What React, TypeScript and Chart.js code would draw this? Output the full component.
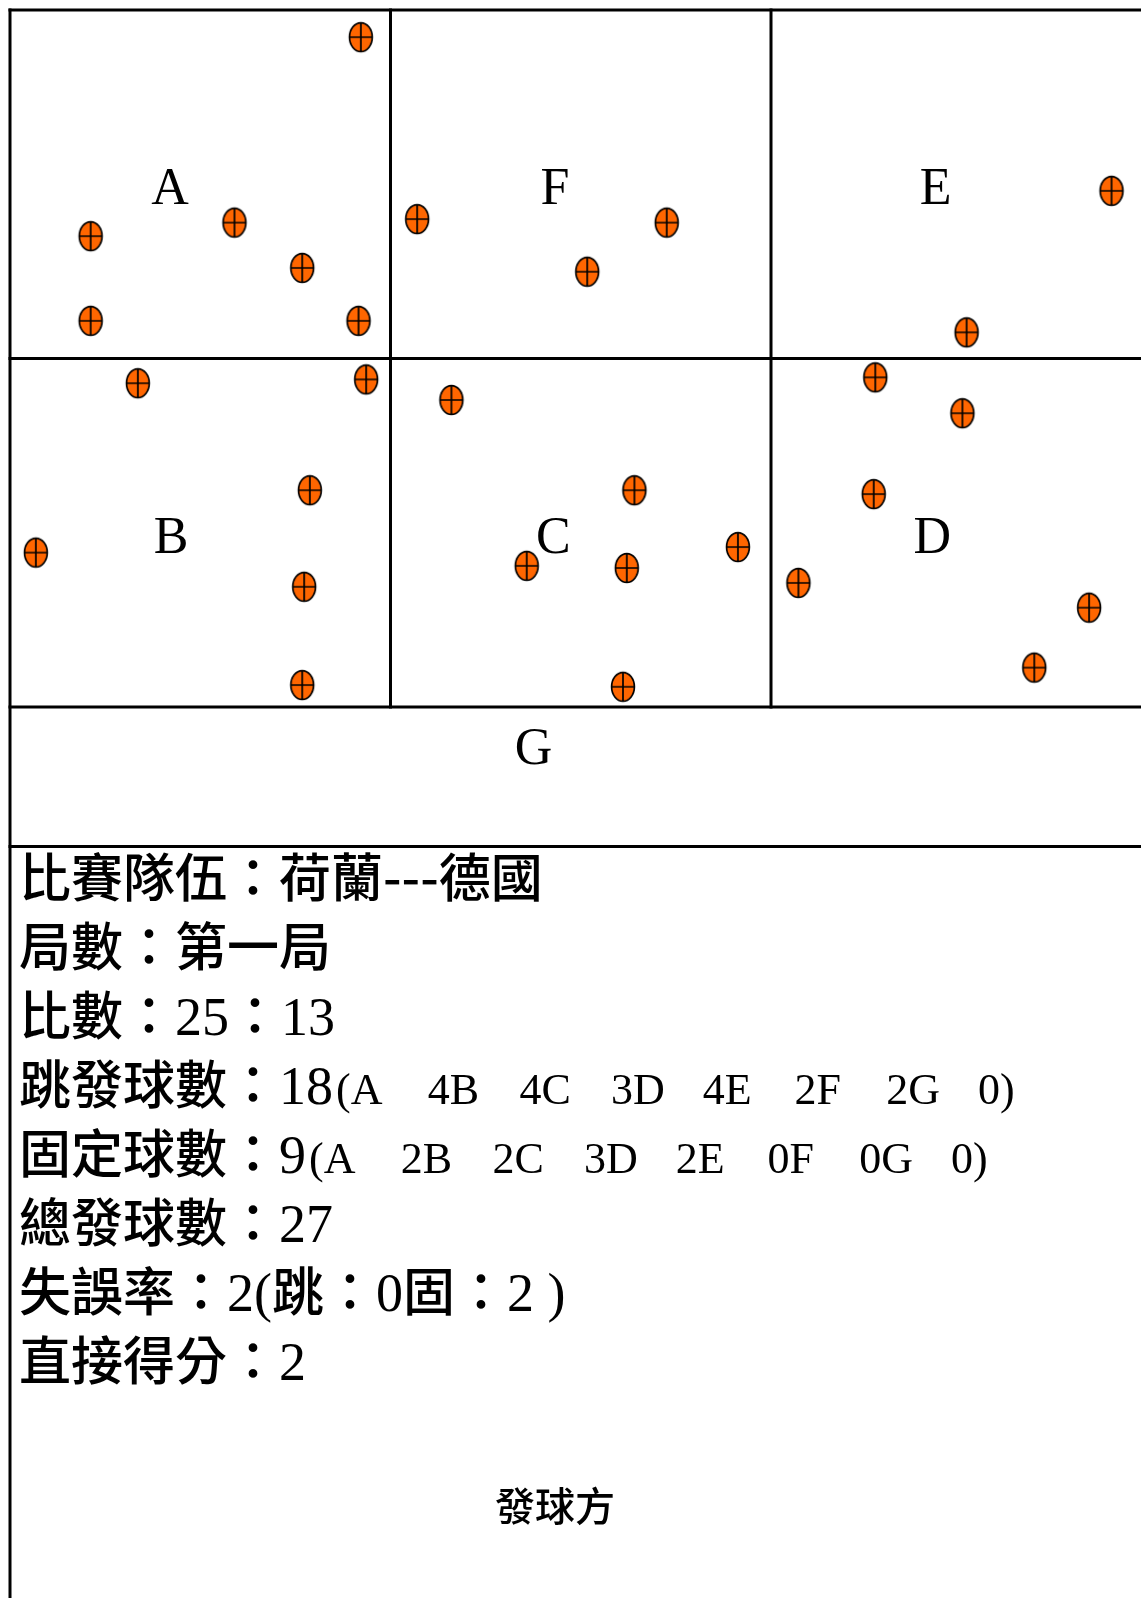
import React, { useEffect, useRef } from "react";
import { Chart, registerables } from "chart.js";

Chart.register(...registerables);

// ---------- data ----------
// Court zone units: x = 1 per zone column, y = 1 per zone row (top row A F E, middle row B C D, G strip)
const ZONE_NAMES = ["A", "F", "E", "B", "C", "D", "G"];

const SERVES_A = [[0.922, 0.078], [0.212, 0.649], [0.590, 0.610], [0.768, 0.740], [0.212, 0.892], [0.916, 0.892]];
const SERVES_F = [[1.070, 0.600], [1.726, 0.610], [1.517, 0.751]];
const SERVES_E = [[2.895, 0.519], [2.514, 0.925]];
const SERVES_B = [[0.336, 1.071], [0.936, 1.060], [0.788, 1.378], [0.068, 1.557], [0.773, 1.655], [0.768, 1.937]];
const SERVES_C = [[1.160, 1.119], [1.641, 1.378], [1.913, 1.541], [1.358, 1.595], [1.621, 1.601], [1.611, 1.942]];
const SERVES_D = [[2.274, 1.054], [2.503, 1.157], [2.270, 1.389], [2.072, 1.644], [2.836, 1.715], [2.692, 1.887]];

const TEAMS = "荷蘭---德國";
const SET_NAME = "第一局";
const SCORE = [25, 13];
const JUMP_TOTAL = 18;
const JUMP_BY_ZONE = [4, 4, 3, 4, 2, 2, 0];
const FLOAT_TOTAL = 9;
const FLOAT_BY_ZONE = [2, 2, 3, 2, 0, 0, 0];
const TOTAL_SERVES = 27;
const ERRORS = [2, 0, 2]; // total, jump, float
const ACES = 2;
const SERVING_SIDE = "發球方";

// ---------- layout / style ----------
const W = 1141;
const H = 1598;
const PAD_LEFT = 10;
const PAD_TOP = 10;
const ZONE_W = 380.5;
const ZONE_H = 348.5;
const X_MAX = (W - PAD_LEFT) / ZONE_W;
const Y_MAX = (H - PAD_TOP) / ZONE_H;
const G_BOTTOM = 2.4;

const LABEL_POS = [
  [0.4205, 0.5567], [1.4323, 0.5567], [2.4329, 0.5567],
  [0.4231, 1.559], [1.4279, 1.559], [2.4239, 1.559],
  [1.3758, 2.1636],
];

const GRID_SEGMENTS = [
  [[0, 0], [X_MAX, 0]],
  [[0, 1], [X_MAX, 1]],
  [[0, 2], [X_MAX, 2]],
  [[0, G_BOTTOM], [X_MAX, G_BOTTOM]],
  [[0, 0], [0, Y_MAX]],
  [[1, 0], [1, 2]],
  [[2, 0], [2, 2]],
];

const CJK = '500 52px "Noto Sans CJK TC", "Noto Sans CJK SC", sans-serif';
const SERIF = '54px "Liberation Serif", "Times New Roman", serif';
const SERIF_SMALL = '44px "Liberation Serif", "Times New Roman", serif';
const LABEL_FONT = '52px "Liberation Serif", "Times New Roman", serif';
const SIDE_FONT = '500 40px "Noto Sans CJK TC", "Noto Sans CJK SC", sans-serif';
const INFO_LEFT = 19;
const INFO_BASE = 897;
const INFO_STEP = 69;
const TOKEN_PITCH = 91.7;
const SIDE_X = 555;
const SIDE_Y = 1506;

type Run = { f?: string; t?: string; tokens?: string[] };

function zoneTokens(counts: number[]): string[] {
  const order = ["A", "B", "C", "D", "E", "F", "G"];
  const out: string[] = ["(" + order[0]];
  for (let i = 1; i < order.length; i++) out.push(counts[i - 1] + order[i]);
  out.push(counts[order.length - 1] + ")");
  return out;
}

const INFO_LINES: Run[][] = [
  [{ f: CJK, t: "比賽隊伍：" + TEAMS }],
  [{ f: CJK, t: "局數：" + SET_NAME }],
  [{ f: CJK, t: "比數：" }, { f: SERIF, t: String(SCORE[0]) }, { f: CJK, t: "：" }, { f: SERIF, t: String(SCORE[1]) }],
  [{ f: CJK, t: "跳發球數：" }, { f: SERIF, t: String(JUMP_TOTAL) }, { tokens: zoneTokens(JUMP_BY_ZONE) }],
  [{ f: CJK, t: "固定球數：" }, { f: SERIF, t: String(FLOAT_TOTAL) }, { tokens: zoneTokens(FLOAT_BY_ZONE) }],
  [{ f: CJK, t: "總發球數：" }, { f: SERIF, t: String(TOTAL_SERVES) }],
  [
    { f: CJK, t: "失誤率：" }, { f: SERIF, t: ERRORS[0] + "(" }, { f: CJK, t: "跳：" },
    { f: SERIF, t: String(ERRORS[1]) }, { f: CJK, t: "固：" }, { f: SERIF, t: ERRORS[2] + " )" },
  ],
  [{ f: CJK, t: "直接得分：" }, { f: SERIF, t: String(ACES) }],
];

function makeMarker(): HTMLCanvasElement {
  const c = document.createElement("canvas");
  c.width = 28;
  c.height = 34;
  const g = c.getContext("2d")!;
  const cx = 14, cy = 17, rx = 11.4, ry = 14.4;
  g.beginPath();
  g.ellipse(cx, cy, rx, ry, 0, 0, Math.PI * 2);
  g.fillStyle = "#FF6600";
  g.fill();
  g.lineWidth = 1.7;
  g.strokeStyle = "#000";
  g.stroke();
  g.beginPath();
  g.moveTo(cx, cy - ry);
  g.lineTo(cx, cy + ry);
  g.moveTo(cx - rx, cy);
  g.lineTo(cx + rx, cy);
  g.lineWidth = 1.7;
  g.stroke();
  return c;
}

const overlayPlugin = {
  id: "courtOverlay",
  afterDatasetsDraw(chart: any) {
    const { ctx } = chart;
    const xs = chart.scales.x;
    const ys = chart.scales.y;
    ctx.save();
    ctx.fillStyle = "#000";
    ctx.textBaseline = "alphabetic";
    ctx.textAlign = "center";
    ctx.font = LABEL_FONT;
    ZONE_NAMES.forEach((n, i) => {
      ctx.fillText(n, xs.getPixelForValue(LABEL_POS[i][0]), ys.getPixelForValue(LABEL_POS[i][1]));
    });

    ctx.textAlign = "left";
    INFO_LINES.forEach((runs, i) => {
      let cx = INFO_LEFT;
      const by = INFO_BASE + i * INFO_STEP;
      runs.forEach((r) => {
        if (r.tokens) {
          ctx.font = SERIF_SMALL;
          r.tokens.forEach((tk, k) => ctx.fillText(tk, cx + 3 + k * TOKEN_PITCH, by));
          return;
        }
        ctx.font = r.f!;
        ctx.fillText(r.t!, cx, by);
        cx += ctx.measureText(r.t!).width;
      });
    });

    ctx.textAlign = "center";
    ctx.textBaseline = "middle";
    ctx.font = SIDE_FONT;
    ctx.fillText(SERVING_SIDE, SIDE_X, SIDE_Y);
    ctx.restore();
  },
};

export default function App() {
  const ref = useRef<HTMLCanvasElement>(null);

  useEffect(() => {
    const canvas = ref.current;
    if (!canvas) return;
    const marker = makeMarker();
    const toPts = (arr: number[][]) => arr.map(([x, y]) => ({ x, y }));
    const allServes = [
      ...SERVES_A, ...SERVES_F, ...SERVES_E, ...SERVES_B, ...SERVES_C, ...SERVES_D,
    ];
    const gridSets = GRID_SEGMENTS.map((seg) => ({
      type: "scatter" as const,
      data: toPts(seg),
      showLine: true,
      borderColor: "#000",
      borderWidth: 3,
      borderCapStyle: "square" as const,
      pointRadius: 0,
      fill: false,
      tension: 0,
      clip: false as any,
      order: 2,
    }));
    const chart = new Chart(canvas, {
      type: "scatter",
      data: {
        datasets: [
          {
            data: toPts(allServes),
            pointStyle: marker as any,
            pointRadius: 13,
            showLine: false,
            clip: false as any,
            order: 0,
          } as any,
          ...gridSets,
        ],
      },
      options: {
        animation: false,
        responsive: false,
        devicePixelRatio: 1,
        events: [],
        layout: { autoPadding: false, padding: { left: PAD_LEFT, top: PAD_TOP, right: 0, bottom: 0 } } as any,
        scales: {
          x: { type: "linear", min: 0, max: X_MAX, display: false },
          y: { type: "linear", min: 0, max: Y_MAX, reverse: true, display: false },
        },
        plugins: {
          legend: { display: false },
          tooltip: { enabled: false },
          title: { display: false },
        },
      },
      plugins: [overlayPlugin],
    });
    let alive = true;
    if ((document as any).fonts && (document as any).fonts.ready) {
      (document as any).fonts.ready.then(() => {
        if (alive) chart.draw();
      });
    }
    return () => {
      alive = false;
      chart.destroy();
    };
  }, []);

  return (
    <div style={{ position: "absolute", left: 0, top: 0, width: W, height: H, background: "#fff" }}>
      <canvas ref={ref} width={W} height={H} style={{ display: "block", width: W, height: H }} />
    </div>
  );
}
